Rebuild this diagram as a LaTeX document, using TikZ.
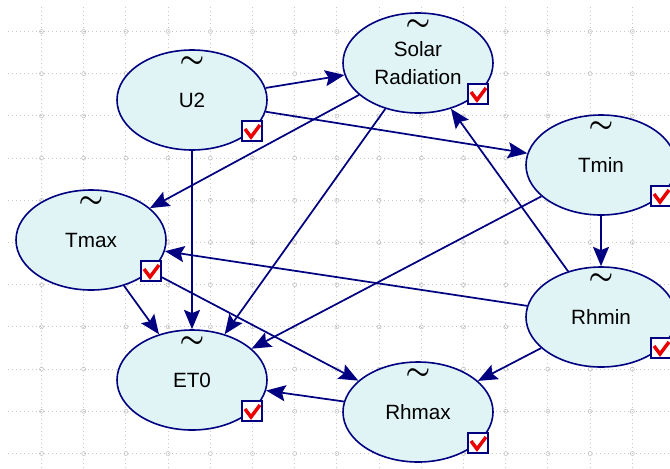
\documentclass[tikz,border=0pt]{standalone}
\usepackage{fontspec}
\setmainfont{Liberation Sans}
\usetikzlibrary{arrows.meta}
\usetikzlibrary{shapes}

\definecolor{linkblue}{RGB}{0,0,128}
\definecolor{varfill}{RGB}{225,244,245}
\definecolor{gridgray}{RGB}{200,200,200}
\definecolor{tickred}{RGB}{235,0,0}

\tikzset{
  var/.style={ellipse, draw=linkblue, line width=1.2pt, fill=varfill, minimum width=112.5pt, minimum height=75pt, inner sep=0pt, align=center, font=\fontsize{15.5}{21}\selectfont},
  link/.style={draw=linkblue, line width=1.3pt, -{Stealth[length=14.5pt,width=12pt,inset=2.5pt]}},
  tildemark/.style={inner sep=0pt, font=\fontsize{20}{20}\selectfont\boldmath},
  checkbox/.style={draw=linkblue, line width=1.2pt, fill=white, minimum size=15pt, inner sep=0pt},
  tick/.style={draw=tickred, line width=2.6pt},
  gridline/.style={draw=gridgray, line width=0.75pt, dash pattern=on 0.75pt off 2.25pt}
}

\def\varlist{u2/192/100/U2, solar/418/63/{Solar\\Radiation}, tmin/601/165/Tmin, tmax/91/240/Tmax, et0/192/380/ET0, rhmax/418/412/Rhmax, rhmin/601/317/Rhmin}

\begin{document}
\begin{tikzpicture}[x=0.75pt,y=0.75pt,yscale=-1,xscale=1]
\clip (0,0) rectangle (670,468);

%Grid
\foreach \gx in {0,...,14} \draw[gridline] (41.5+42.2*\gx,7) -- (41.5+42.2*\gx,468);
\foreach \gy in {0,...,10} \draw[gridline] (8,31.5+42.2*\gy) -- (670,31.5+42.2*\gy);
\foreach \gx in {0,...,14} \foreach \gy in {0,...,10} \draw[gridgray, line width=0.5pt] (41.5+42.2*\gx,31.5+42.2*\gy) circle (2);

%Variables
\foreach \n/\x/\y/\t in \varlist \node[var] (\n) at (\x,\y) {\t};

%Links
\foreach \a/\b in {u2/solar, u2/tmin, u2/et0, solar/tmax, solar/et0, rhmin/solar, tmin/et0, tmin/rhmin, rhmin/tmax, rhmin/rhmax, tmax/et0, tmax/rhmax, rhmax/et0}
  \draw[link] (\a) -- (\b);

%Tilde and check box of each variable
\foreach \n/\x/\y/\t in \varlist {
  \node[tildemark] (\n-tilde) at (\x,\y-38) {$\sim$};
  \node[checkbox] (\n-box) at (\x+60,\y+31) {};
  \draw[tick] (\x+53,\y+29) -- (\x+59,\y+37) -- (\x+68,\y+25);
}

\end{tikzpicture}
\end{document}
